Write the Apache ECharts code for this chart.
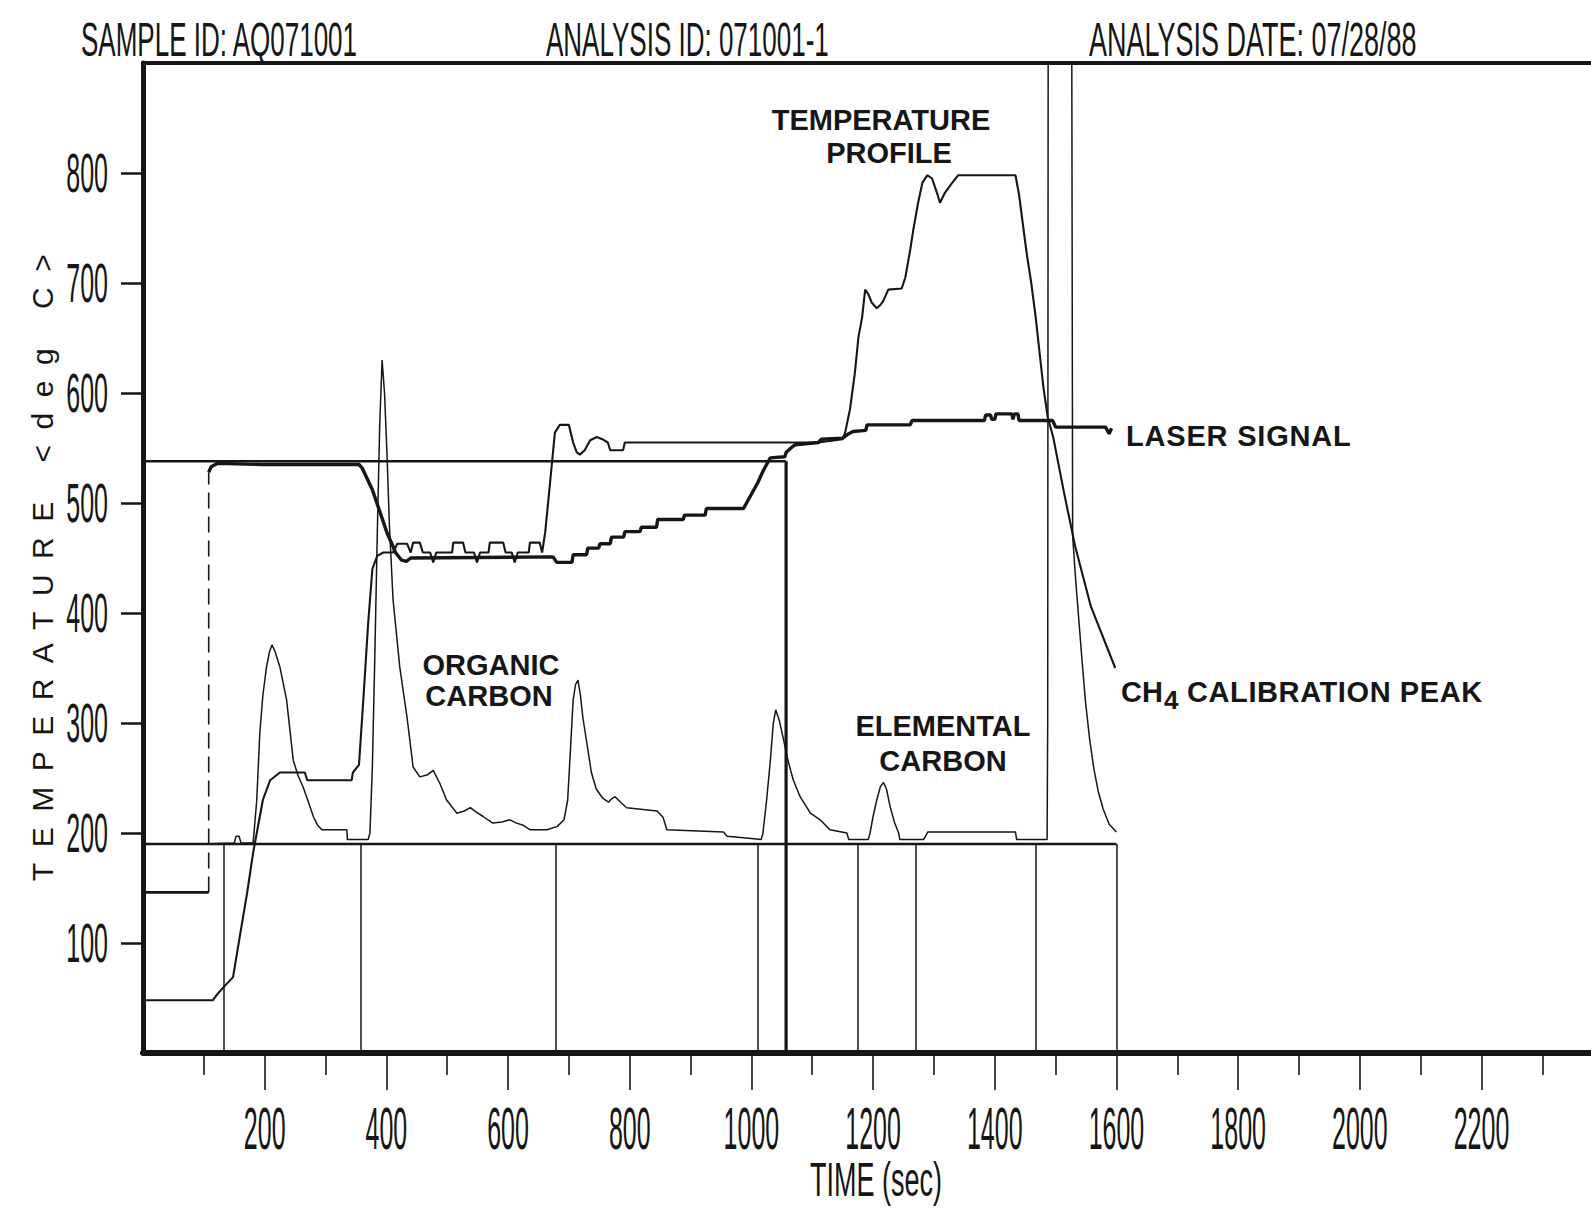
<!DOCTYPE html>
<html>
<head>
<meta charset="utf-8">
<title>Thermal/optical carbon analysis thermogram</title>
<script src="https://cdn.jsdelivr.net/npm/echarts@6.0.0/dist/echarts.min.js"></script>
<style>
  html, body { margin: 0; padding: 0; background: #ffffff; }
  #chart { width: 1591px; height: 1211px; }
</style>
</head>
<body>
<div id="chart"></div>
<script>
// ---------- data (time in s, temperature scale in deg C) ----------
const xTickLabels = [200, 400, 600, 800, 1000, 1200, 1400, 1600, 1800, 2000, 2200];
const xMinorTicks = [100, 300, 500, 700, 900, 1100, 1300, 1500, 1700, 1900, 2100, 2300];
const yTickLabels = [100, 200, 300, 400, 500, 600, 700, 800];

const headerTexts = ['SAMPLE ID: AQ071001', 'ANALYSIS ID: 071001-1', 'ANALYSIS DATE: 07/28/88'];

const temperatureProfile = [
  [5, 48], [115, 48], [120, 52], [131, 59], [148, 69], [160, 109], [171, 145], [181, 182],
  [187, 200], [197, 230], [209, 248], [225, 255], [266, 255], [270, 248], [343, 248],
  [345, 255], [355, 262], [362, 320], [370, 390], [377, 440], [385, 452], [395, 455],
  [411, 455], [418, 463], [434, 463], [440, 455], [444, 464], [455, 464], [460, 455],
  [472, 455], [477, 446], [482, 455], [508, 455], [510, 464], [526, 464], [530, 455],
  [544, 455], [549, 446], [554, 455], [568, 455], [570, 464], [592, 464], [596, 455],
  [606, 455], [611, 446], [616, 455], [634, 455], [636, 464], [652, 464], [656, 455],
  [661, 473], [669, 518], [677, 564], [685, 571], [700, 571], [707, 555], [713, 546],
  [718, 544], [726, 548], [735, 557], [746, 560], [755, 558], [764, 555], [768, 548],
  [789, 548], [792, 555], [1110, 555], [1150, 558], [1154, 564], [1162, 585], [1170, 618],
  [1176, 651], [1182, 669], [1187, 694], [1192, 690], [1198, 682], [1206, 677], [1212, 680],
  [1217, 684], [1225, 694], [1247, 695], [1253, 705], [1261, 730], [1266, 748], [1274, 773],
  [1281, 791], [1289, 798], [1297, 795], [1305, 782], [1310, 773], [1318, 782], [1330, 791],
  [1340, 798], [1434, 798], [1440, 780], [1447, 750], [1453, 725], [1460, 700], [1467, 670],
  [1474, 635], [1480, 605], [1487, 578], [1496, 560], [1514, 509], [1532, 461], [1558, 406],
  [1598, 350]
];

const laserSignal = [
  [5, 146], [108, 146], [108, 528], [112, 533], [122, 536], [197, 535], [355, 535],
  [360, 532], [366, 525], [377, 512], [390, 491], [401, 473], [409, 463], [415, 455],
  [425, 448], [433, 447], [440, 450], [674, 451], [680, 446], [705, 446], [707, 453],
  [729, 453], [731, 459], [749, 459], [751, 463], [768, 463], [770, 469], [790, 469],
  [792, 474], [817, 474], [819, 478], [844, 478], [846, 485], [888, 485], [890, 489],
  [924, 489], [926, 495], [987, 495], [992, 500], [1000, 508], [1010, 518], [1020, 530],
  [1031, 541], [1055, 542], [1057, 546], [1065, 550], [1072, 553], [1110, 555], [1115, 558],
  [1150, 559], [1160, 563], [1167, 565], [1188, 566], [1190, 571], [1261, 571], [1264, 575],
  [1383, 575], [1385, 580], [1393, 580], [1395, 576], [1400, 576], [1402, 581], [1428, 581],
  [1430, 576], [1432, 581], [1438, 581], [1440, 575], [1495, 575], [1500, 569], [1582, 569],
  [1588, 563], [1592, 568]
];

// the laser is switched on: dashed jump of the laser trace
const laserSwitchOn = [[108, 146], [108, 528]];

const fidSignal = [
  [5, 190], [99, 190], [150, 191], [153, 197], [158, 197], [161, 191], [181, 191],
  [187, 230], [192, 291], [197, 325], [203, 351], [208, 365], [212, 371], [217, 365],
  [225, 351], [236, 321], [247, 266], [255, 252], [263, 242], [272, 228], [280, 215],
  [287, 207], [294, 203], [335, 203], [336, 194], [370, 194], [373, 200], [377, 260],
  [381, 360], [385, 470], [389, 570], [393, 630], [397, 600], [401, 545], [405, 480],
  [411, 412], [422, 351], [434, 305], [444, 260], [455, 251], [468, 253], [477, 257],
  [488, 245], [499, 230], [516, 218], [528, 220], [538, 223], [548, 219], [559, 215],
  [575, 209], [590, 210], [603, 212], [614, 209], [625, 207], [636, 203], [664, 203],
  [681, 206], [692, 212], [698, 230], [703, 280], [707, 321], [711, 335], [715, 339],
  [719, 325], [723, 305], [730, 280], [737, 255], [745, 240], [755, 232], [765, 228],
  [770, 231], [776, 233], [785, 228], [795, 223], [845, 220], [855, 214], [861, 203],
  [954, 201], [960, 197], [1000, 195], [1016, 194], [1019, 200], [1025, 230], [1031, 265],
  [1036, 300], [1040, 312], [1046, 302], [1052, 287], [1061, 264], [1069, 248], [1080, 233],
  [1097, 218], [1113, 212], [1129, 203], [1157, 200], [1160, 194], [1192, 194], [1195, 200],
  [1200, 215], [1206, 230], [1212, 242], [1217, 246], [1222, 240], [1228, 224], [1235, 210],
  [1242, 200], [1244, 194], [1283, 194], [1290, 201], [1434, 201], [1436, 194], [1486, 194],
  [1487, 300], [1488, 1100], [1505, 2600], [1526, 1100], [1528, 470], [1533, 430],
  [1538, 395], [1543, 360], [1549, 320], [1556, 285], [1563, 258], [1570, 238], [1578, 222],
  [1588, 208], [1600, 201]
];

// reference levels drawn by the analyser
const fidBaseline = [[0, 190], [1600, 190]];
const laserInitial = [[0, 538], [1057, 538]];
const ocEcSplit = [[1057, 538], [1057, 0]];
const peakBoundaries = [132, 358, 678, 1010, 1175, 1270, 1468, 1600];

// ---------- chart ----------
const INK = '#161616';
const PLOT_FONT = '"Liberation Sans", Arial, sans-serif';
const X_MAX = 2380;   // the time axis runs on past the right edge of the sheet

const chart = echarts.init(document.getElementById('chart'), null, { renderer: 'svg', width: 1591, height: 1211 });

const plainLine = (name, data, width, extra) => Object.assign({
  name: name,
  type: 'line',
  data: data,
  showSymbol: false,
  symbol: 'none',
  silent: true,
  clip: true,
  lineStyle: { color: INK, width: width },
  z: 3
}, extra || {});

const hidden = { show: false };

chart.setOption({
  backgroundColor: '#ffffff',
  animation: false,
  grid: { left: 143, top: 63, right: 0, bottom: 158, containLabel: false },
  xAxis: [
    {
      // main time axis with the long ticks
      type: 'value', min: 0, max: X_MAX, interval: 200, position: 'bottom',
      axisLine: { show: true, onZero: false, lineStyle: { color: INK, width: 6 } },
      axisTick: { show: true, length: 37, customValues: xTickLabels, lineStyle: { color: INK, width: 1.6 } },
      axisLabel: hidden, splitLine: hidden
    },
    {
      // short ticks at the odd hundreds
      type: 'value', min: 0, max: X_MAX, interval: 100, position: 'bottom',
      axisLine: hidden,
      axisTick: { show: true, length: 22, customValues: xMinorTicks, lineStyle: { color: INK, width: 1.6 } },
      axisLabel: hidden, splitLine: hidden
    },
    {
      // top frame
      type: 'value', min: 0, max: X_MAX, position: 'top',
      axisLine: { show: true, onZero: false, lineStyle: { color: INK, width: 4 } },
      axisTick: hidden, axisLabel: hidden, splitLine: hidden
    }
  ],
  yAxis: {
    type: 'value', min: 0, max: 900, interval: 100,
    axisLine: { show: true, onZero: false, lineStyle: { color: INK, width: 5 } },
    axisTick: { show: true, length: 22, customValues: yTickLabels, lineStyle: { color: INK, width: 2.5 } },
    axisLabel: hidden,
    splitLine: hidden
  },
  series: [
    plainLine('FID baseline', fidBaseline, 2.6, {
      markLine: {
        silent: true, symbol: ['none', 'none'], label: hidden,
        lineStyle: { color: INK, width: 1.5, type: 'solid' },
        data: peakBoundaries.map(t => [{ coord: [t, fidBaseline[0][1]] }, { coord: [t, 0] }])
      }
    }),
    plainLine('Initial laser level', laserInitial, 2.6),
    plainLine('OC/EC split', ocEcSplit, 3.2),
    plainLine('FID signal', fidSignal, 1.5),
    plainLine('Temperature profile', temperatureProfile, 2.1),
    plainLine('Laser signal', laserSignal.slice(2), 3.4),
    plainLine('Laser signal (off)', laserSignal.slice(0, 2), 2.6),
    plainLine('Laser switch-on', laserSwitchOn, 1.6, { lineStyle: { color: INK, width: 1.6, type: [16, 8] } })
  ]
});

// ---------- texts ----------
const px = v => chart.convertToPixel({ xAxisIndex: 0 }, v);
const py = v => chart.convertToPixel({ yAxisIndex: 0 }, v);

// tall, narrow plotter lettering
function plotterText(text, x, y, align, size, stretch) {
  return {
    type: 'text', x: x, y: y, scaleY: stretch, silent: true, z: 10,
    style: { text: text, font: size + 'px ' + PLOT_FONT, fill: INK, textAlign: align, textVerticalAlign: 'middle' }
  };
}
// annotation lettering
const NOTE_FONT = 'bold 29px ' + PLOT_FONT;
function noteText(text, x, y, align) {
  return {
    type: 'text', x: x, y: y, silent: true, z: 10,
    style: { text: text, font: NOTE_FONT, fill: INK, textAlign: align, textVerticalAlign: 'middle' }
  };
}

const graphics = [];
graphics.push(plotterText(headerTexts[0], 81, 39, 'left', 26, 1.85));
graphics.push(plotterText(headerTexts[1], 546, 39, 'left', 26, 1.85));
graphics.push(plotterText(headerTexts[2], 1089, 39, 'left', 27, 1.8));

xTickLabels.forEach(v => graphics.push(plotterText(String(v), px(v), 1129, 'center', 25, 2.35)));
yTickLabels.forEach(v => graphics.push(plotterText(String(v), 108, py(v), 'right', 25, 2.2)));

graphics.push(plotterText('TIME (sec)', 876, 1179, 'center', 27, 1.8));

graphics.push({
  type: 'text', x: 42, y: 560, rotation: Math.PI / 2, silent: true, z: 10,
  style: { text: 'TEMPERATURE <deg C>', font: '30px ' + PLOT_FONT, fill: INK, textAlign: 'center', textVerticalAlign: 'middle' }
});

graphics.push(noteText('TEMPERATURE', 881, 120, 'center'));
graphics.push(noteText('PROFILE', 889, 153, 'center'));
graphics.push(noteText('LASER SIGNAL', 1126, 436, 'left'));
graphics.push(noteText('ORGANIC', 491, 665, 'center'));
graphics.push(noteText('CARBON', 489, 696, 'center'));
graphics.push(noteText('ELEMENTAL', 943, 726, 'center'));
graphics.push(noteText('CARBON', 943, 761, 'center'));
graphics.push({
  type: 'text', x: 1121, y: 692, silent: true, z: 10,
  style: {
    text: '{a|CH}{b|4}{a| CALIBRATION PEAK}',
    textAlign: 'left', textVerticalAlign: 'middle',
    rich: {
      a: { font: NOTE_FONT, fill: INK },
      b: { font: 'bold 26px ' + PLOT_FONT, fill: INK, padding: [16, 0, 0, 1] }
    }
  }
});

chart.setOption({ graphic: { elements: graphics } });

// letter spacing of a few titles
function spaceLettering() {
  document.querySelectorAll('#chart text').forEach(t => {
    const s = t.textContent;
    if (s === 'TEMPERATURE <deg C>') t.setAttribute('letter-spacing', '15.5');
    else if (s === 'LASER SIGNAL') t.setAttribute('letter-spacing', '0.8');
    else if (s === ' CALIBRATION PEAK') t.setAttribute('letter-spacing', '0.6');
  });
}
spaceLettering();
chart.on('finished', spaceLettering);
</script>
</body>
</html>
